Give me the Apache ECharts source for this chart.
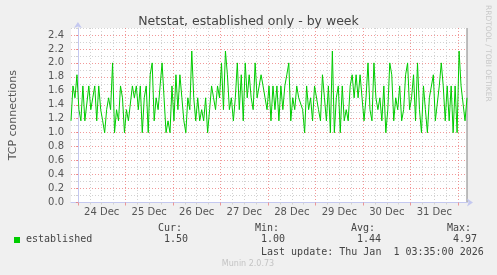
<!DOCTYPE html>
<html><head><meta charset="utf-8">
<script src="https://cdn.jsdelivr.net/npm/echarts@6/dist/echarts.min.js"></script>
<style>html,body{margin:0;padding:0;background:#f0f0f0}#c{width:497px;height:275px}</style>
</head><body><div id="c"></div>
<script>
// hours relative to 24 Dec 00:00, one sample per hour
const startHour = -3.5;
const established = [
 1.17,1.67,1.5,1.83,1.33,1.17,1.67,1.17,1.17,1.67,1.33,1.5,1.67,1.17,1.67,1.33,1.17,1.0,1.33,1.5,1.33,2.0,1.0,1.33,1.17,1.67,1.5,1.0,1.33,1.17,
 1.17,1.67,1.5,1.67,1.33,1.67,1.0,1.5,1.67,1.0,1.83,2.0,1.17,1.5,1.33,1.67,2.0,1.5,1.0,1.17,1.0,1.67,1.17,1.83,1.33,1.83,1.5,1.17,1.0,1.5,
 1.33,2.17,1.5,1.17,1.5,1.17,1.33,1.17,1.5,1.0,1.33,1.67,1.5,1.33,1.67,1.5,2.0,1.33,2.17,1.83,1.33,1.5,1.17,1.5,2.0,1.33,1.83,1.17,2.0,1.5,
 1.83,1.5,1.33,2.0,1.5,1.5,1.83,1.67,1.5,1.33,1.67,1.17,1.67,1.33,1.67,1.17,1.67,1.33,1.67,1.83,2.0,1.17,1.5,1.33,1.67,1.5,1.5,1.33,1.0,1.67,
 1.33,1.5,1.17,1.67,1.67,1.33,1.17,1.83,1.5,1.17,1.67,1.0,2.17,1.0,1.5,1.67,1.0,1.67,1.17,1.33,1.17,1.67,1.83,1.5,1.83,1.5,1.83,1.5,1.17,1.5,
 2.0,1.33,1.17,2.0,1.5,1.33,1.5,1.17,1.67,1.0,1.33,2.0,1.83,1.17,1.5,1.33,1.67,1.17,1.33,1.83,2.0,1.33,1.5,1.83,1.17,2.0,1.33,1.0,1.67,1.33,
 1.0,1.5,1.5,1.83,1.17,1.17,1.67,2.0,1.67,1.17,1.67,1.17,1.67,1.0,1.67,1.0,2.17,1.67,1.67,1.17,1.5
];
const dayLabels = ['24 Dec','25 Dec','26 Dec','27 Dec','28 Dec','29 Dec','30 Dec','31 Dec'];
const yTicks = [0,0.2,0.4,0.6,0.8,1.0,1.2,1.4,1.6,1.8,2.0,2.2,2.4];
const yMinor = [0.1,0.3,0.5,0.7,0.9,1.1,1.3,1.5,1.7,1.9,2.1,2.3,2.5];
const statNames = ['Cur:','Min:','Avg:','Max:'];
const statValues = ['1.50','1.00','1.44','4.97'];
const seriesName = 'established';
const lastUpdate = 'Last update: Thu Jan  1 03:35:00 2026';
const titleText = 'Netstat, established only - by week';
const yName = 'TCP connections';

const xMin = -3.5, xMax = 196.5;
const midnights = dayLabels.map((d,i)=>i*24).concat([dayLabels.length*24]);
const noons = dayLabels.map((d,i)=>i*24+12);
const sixHours = [];
for (let h = 6; h < xMax; h += 6) if (h % 24 !== 0) sixHours.push(h);

const points = established.map((v,i)=>[startHour + i, v]);

const chart = echarts.init(document.getElementById('c'));
const mono = 'DejaVu Sans Mono';
const sans = 'DejaVu Sans';
const majorColor = 'rgba(235,110,110,0.7)';
const minorColor = '#d2d2d2';
const axisColor = '#c4c8f0';

const statX = [158, 255, 351, 447];
const graphics = [
  {type:'rect', shape:{x:14,y:237,width:6,height:6}, style:{fill:'#00cc00'}},
  {type:'text', x:26, y:239, style:{text:seriesName, font:'10px '+mono, fill:'#444', textVerticalAlign:'middle'}},
  {type:'text', x:261, y:252, style:{text:lastUpdate, font:'10px '+mono, fill:'#444', textVerticalAlign:'middle'}},
  {type:'text', x:248, y:264, style:{text:'Munin 2.0.73', font:'8px '+sans, fill:'#c4c4c4', textAlign:'center', textVerticalAlign:'middle'}},
  {type:'text', x:492, y:5, rotation:-Math.PI/2, style:{text:'RRDTOOL / TOBI OETIKER', font:'7.5px '+sans, fill:'#c8c8c8', textAlign:'left', textVerticalAlign:'top'}},
  {type:'line', shape:{x1:467,y1:28,x2:467,y2:202.5}, style:{stroke:'#808080', lineWidth:1}}
];
statNames.forEach((n,i)=>{
  graphics.push({type:'text', x:statX[i], y:228, style:{text:n, font:'10px '+mono, fill:'#444', textVerticalAlign:'middle'}});
  graphics.push({type:'text', x:statX[i]+30, y:239, style:{text:statValues[i], font:'10px '+mono, fill:'#444', textAlign:'right', textVerticalAlign:'middle'}});
});

chart.setOption({
  backgroundColor:'#f0f0f0',
  animation:false,
  title:{text:titleText, left:'center', top:10, textStyle:{fontFamily:sans, fontSize:12.5, fontWeight:'normal', color:'#444'}},
  grid:{left:67, right:30, top:28, bottom:72.5, show:true, backgroundColor:'#ffffff', borderWidth:0},
  xAxis:[
    {type:'value', min:xMin, max:xMax, position:'bottom',
     axisLine:{show:true, lineStyle:{color:axisColor}, symbol:['none','arrow'], symbolSize:[6,6], symbolOffset:[0,6]},
     axisTick:{show:true, customValues:midnights, length:3, lineStyle:{color:majorColor}},
     splitLine:{show:true, lineStyle:{color:majorColor, type:[1,2], width:1}},
     axisLabel:{customValues:noons, margin:5, fontFamily:sans, fontSize:10, color:'#555',
       formatter:v=>dayLabels[Math.round((v-12)/24)]}},
    {type:'value', min:xMin, max:xMax, position:'bottom',
     axisLine:{show:false}, axisLabel:{show:false},
     axisTick:{show:true, customValues:sixHours, length:2, lineStyle:{color:minorColor}},
     splitLine:{show:true, lineStyle:{color:minorColor, type:[1,2], width:1}}}
  ],
  yAxis:[
    {type:'value', min:0, max:2.5,
     axisLine:{show:true, lineStyle:{color:axisColor}, symbol:['none','arrow'], symbolSize:[6,6], symbolOffset:[0,6]},
     axisTick:{show:true, customValues:yTicks, length:2, lineStyle:{color:majorColor}},
     splitLine:{show:true, lineStyle:{color:majorColor, type:[1,2], width:1}},
     axisLabel:{customValues:yTicks, margin:7, fontFamily:sans, fontSize:10, color:'#555', formatter:v=>v.toFixed(1)},
     name:yName, nameLocation:'middle', nameGap:52, nameRotate:90,
     nameTextStyle:{fontFamily:sans, fontSize:11, color:'#555'}},
    {type:'value', min:0, max:2.5, position:'left',
     axisLine:{show:false}, axisLabel:{show:false},
     axisTick:{show:true, customValues:yMinor, length:2, lineStyle:{color:minorColor}},
     splitLine:{show:true, lineStyle:{color:minorColor, type:[1,2], width:1}}}
  ],
  graphic:graphics,
  series:[{type:'line', name:seriesName, data:points, xAxisIndex:0, yAxisIndex:0,
    showSymbol:false, symbol:'none', lineStyle:{color:'#00cc00', width:1}, z:5}]
});
</script></body></html>
